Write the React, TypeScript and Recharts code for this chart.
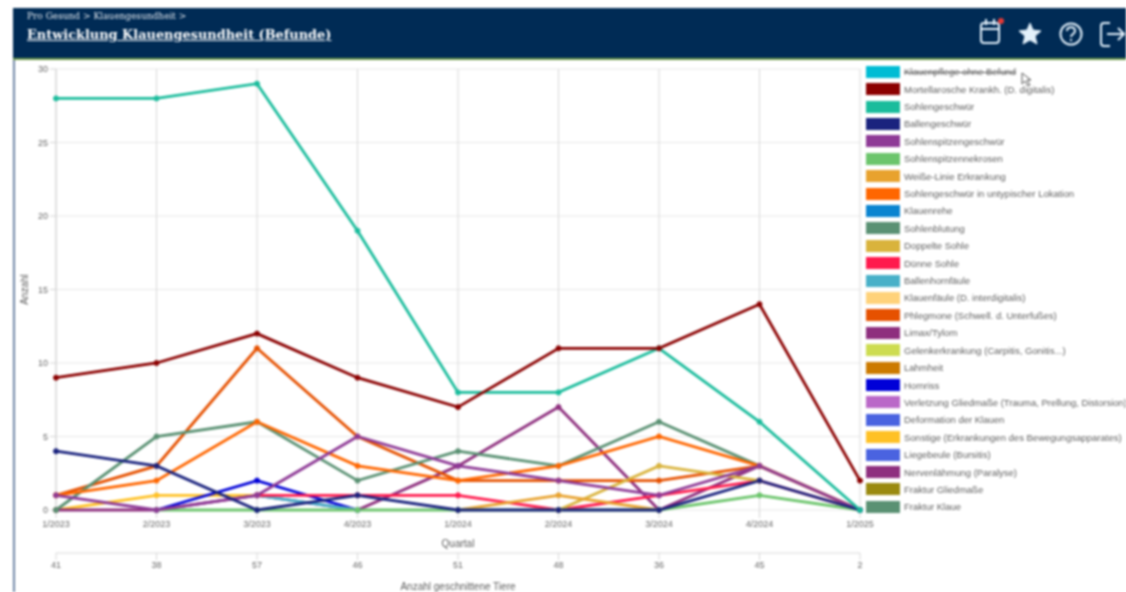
import { CartesianGrid, Line, LineChart, XAxis, YAxis } from 'recharts';

const quarters = ['1/2023', '2/2023', '3/2023', '4/2023', '1/2024', '2/2024', '3/2024', '4/2024', '1/2025'];
const animals = ['41', '38', '57', '46', '51', '48', '36', '45', '2'];

const names = [
    'Klauenpflege ohne Befund',
    'Mortellarosche Krankh. (D. digitalis)',
    'Sohlengeschwür',
    'Ballengeschwür',
    'Sohlenspitzengeschwür',
    'Sohlenspitzennekrosen',
    'Weiße-Linie Erkrankung',
    'Sohlengeschwür in untypischer Lokation',
    'Klauenrehe',
    'Sohlenblutung',
    'Doppelte Sohle',
    'Dünne Sohle',
    'Ballenhornfäule',
    'Klauenfäule (D. interdigitalis)',
    'Phlegmone (Schwell. d. Unterfußes)',
    'Limax/Tylom',
    'Gelenkerkrankung (Carpitis, Gonitis...)',
    'Lahmheit',
    'Hornriss',
    'Verletzung Gliedmaße (Trauma, Prellung, Distorsion)',
    'Deformation der Klauen',
    'Sonstige (Erkrankungen des Bewegungsapparates)',
    'Liegebeule (Bursitis)',
    'Nervenlähmung (Paralyse)',
    'Fraktur Gliedmaße',
    'Fraktur Klaue',
];

const colors = [
    '#00bcd4', '#8b0000', '#1abc9c', '#1a237e', '#8e3a96', '#6cc56c', '#e8a22e', '#ff6600', '#0a84d0',
    '#5a9173', '#d9b33c', '#ff1a4d', '#48b0c8', '#ffd27a', '#e65100', '#8e2f7e', '#cddc50', '#cc7a00',
    '#0000d8', '#ba68c8', '#4a63e0', '#ffc125', '#4a63e0', '#8e2f7e', '#9a8a10', '#5a9173',
];

// series with no visible line in the picture stay empty, they only show up in the legend
const none = [null, null, null, null, null, null, null, null, null];

const noFinding = none;
const mortellaro = [9, 10, 12, 9, 7, 11, 11, 14, 2];
const soleUlcer = [28, 28, 29, 19, 8, 8, 11, 6, 0];
const heelUlcer = [4, 3, 0, 1, 0, 0, 0, 2, 0];
const toeUlcer = [1, 0, 1, 5, 3, 2, 1, 3, 0];
const toeNecrosis = [null, 0, 0, 0, 0, 0, 0, 1, 0];
const whiteLine = [null, null, null, null, 0, 1, 0, null, null];
const atypicalUlcer = [1, 2, 6, 3, 2, 3, 5, 3, 0];
const laminitis = none;
const soleBleeding = [0, 5, 6, 2, 4, 3, 6, 3, 0];
const doubleSole = [null, null, null, null, null, 0, 3, 2, null];
const thinSole = [null, null, 1, 1, 1, 0, 1, 2, 0];
const heelRot = [null, null, 1, 0, null, null, null, null, null];
const footRot = none;
const phlegmon = [1, 3, 11, 5, 2, 2, 2, 3, 0];
const limax = [0, 0, 1, 0, 3, 7, 0, 3, 0];
const jointDisease = none;
const lameness = none;
const hornCrack = [null, 0, 2, 0, null, null, null, null, null];
const injury = none;
const deformation = none;
const other = [0, 1, 1, null, null, null, null, null, null];
const bursitis = none;
const paralysis = none;
const limbFracture = none;
const clawFracture = none;

const seriesValues = [
    noFinding, mortellaro, soleUlcer, heelUlcer, toeUlcer, toeNecrosis, whiteLine, atypicalUlcer, laminitis,
    soleBleeding, doubleSole, thinSole, heelRot, footRot, phlegmon, limax, jointDisease, lameness,
    hornCrack, injury, deformation, other, bursitis, paralysis, limbFracture, clawFracture,
];

const yTicks = [0, 5, 10, 15, 20, 25, 30];

const data = quarters.map((quarter, i) => {
    const row: { [key: string]: number | string | null } = { quarter, animals: animals[i] };
    names.forEach((name, s) => {
        row[name] = seriesValues[s][i];
    });
    return row;
});

// first series sits on top in the reference, so draw back to front
const drawOrder = names.map((_, s) => names.length - 1 - s);

const font = '"Liberation Sans", Arial, sans-serif';
const serif = '"DejaVu Serif", serif';
const tickStyle = { fontSize: 9, fill: '#666', fontFamily: font };
const labelStyle = { fontSize: 10, fill: '#5c5c5c', fontFamily: font, textAnchor: 'middle' as const };

const HeaderIcons = () => (
    <svg width={150} height={50} style={{ position: 'absolute', left: 976, top: 8 }} fill="none" stroke="#e3f1fb" strokeWidth={2}>
        <rect x={5} y={15} width={18} height={20} rx={3} />
        <path d="M5 21 H23 M10 11 V17 M18 11 V17" />
        <circle cx={25} cy={13} r={3} fill="#e53935" stroke="none" />
        <path d="M54 15 L57 22 L65 23 L59 28 L61 36 L54 32 L47 36 L49 28 L43 23 L51 22 Z" fill="#e3f1fb" strokeWidth={1} />
        <circle cx={95} cy={26} r={10.5} />
        <path d="M91 23 C91 18 99 18 99 23 C99 26 95 26 95 29 M95 31 V33" />
        <path d="M134 15 H128 Q125 15 125 18 V35 Q125 38 128 38 H134 M131 26 H148 M142 20 L148 26 L142 32" />
    </svg>
);

const Cursor = () => (
    <svg width={12} height={16} style={{ position: 'absolute', left: 1021, top: 72 }}>
        <path d="M1 1 L1 12 L4 9 L7 14 L9 13 L6 8 L10 8 Z" fill="#fff" stroke="#555" strokeWidth={1} />
    </svg>
);

const App = () => (
    <div style={{ position: 'absolute', left: 0, top: 0, width: 1126, height: 592, overflow: 'hidden', background: '#fff', fontFamily: font, filter: 'blur(0.8px)' }}>
        <div style={{ position: 'absolute', left: 13, top: 8, width: 2, height: 584, background: '#6f86a6' }} />
        <div style={{ position: 'absolute', left: 13, top: 8, width: 1113, height: 50, background: '#002b55' }} />
        <div style={{ position: 'absolute', left: 13, top: 58, width: 1113, height: 2, background: '#6f9a4a' }} />
        <div style={{ position: 'absolute', left: 27, top: 11, fontFamily: serif, fontSize: 9, color: '#e2e8ee' }}>
            Pro Gesund &gt; Klauengesundheit &gt;
        </div>
        <div style={{ position: 'absolute', left: 27, top: 27, fontFamily: serif, fontSize: 12.9, fontWeight: 'bold', color: '#fff', textDecoration: 'underline' }}>
            Entwicklung Klauengesundheit (Befunde)
        </div>
        <HeaderIcons />

        <div style={{ position: 'absolute', left: 0, top: 0 }}>
            <LineChart width={1126} height={592} data={data} margin={{ top: 69, right: 266, bottom: 0, left: 16 }}>
                <CartesianGrid stroke="#e8e8e8" vertical={false} />
                <CartesianGrid stroke="#d8d8d8" horizontal={false} />
                <XAxis
                    dataKey="quarter"
                    xAxisId={0}
                    height={43}
                    interval={0}
                    scale="point"
                    axisLine={false}
                    stroke="#d4d4d4"
                    tick={tickStyle}
                    tickSize={8}
                    tickMargin={3}
                    label={{ value: 'Quartal', position: 'insideBottom', offset: 6, style: labelStyle }}
                />
                <XAxis
                    dataKey="animals"
                    xAxisId={1}
                    height={39}
                    interval={0}
                    scale="point"
                    stroke="#d8d8d8"
                    tick={tickStyle}
                    tickSize={7}
                    label={{ value: 'Anzahl geschnittene Tiere', position: 'insideBottom', offset: 2, style: labelStyle }}
                />
                <YAxis
                    width={40}
                    domain={[0, 30]}
                    ticks={yTicks}
                    stroke="#d4d4d4"
                    tick={tickStyle}
                    tickSize={6}
                    label={{ value: 'Anzahl', angle: -90, position: 'insideLeft', offset: 8, style: labelStyle }}
                />
                {drawOrder.map((s) => (
                    <Line
                        key={names[s]}
                        xAxisId={0}
                        type="linear"
                        dataKey={names[s]}
                        hide={s === 0}
                        stroke={colors[s]}
                        strokeWidth={2.8}
                        dot={{ r: 2.5, fill: colors[s], stroke: colors[s], strokeWidth: 1 }}
                        isAnimationActive={false}
                    />
                ))}
            </LineChart>
        </div>

        <div style={{ position: 'absolute', left: 866, top: 63 }}>
            {names.map((name, s) => (
                <div key={name} style={{ display: 'flex', alignItems: 'center', height: 17.42, whiteSpace: 'nowrap' }}>
                    <span style={{ display: 'inline-block', width: 34, height: 12, background: colors[s], marginRight: 4, flexShrink: 0 }} />
                    <span style={{ fontSize: 9.5, color: '#606060', textDecoration: s === 0 ? 'line-through' : 'none' }}>{name}</span>
                </div>
            ))}
        </div>
        <Cursor />
    </div>
);

export default App;
